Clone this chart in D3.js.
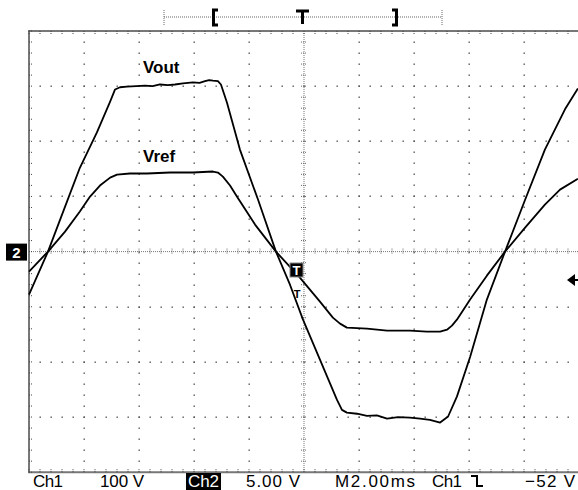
<!DOCTYPE html>
<meta charset="utf-8">
<style>
  body { margin: 0; background: #fff; }
  svg { display: block; }
  text { font-family: "Liberation Sans", Arial, sans-serif; }
</style>
<body>
<div id="scope"></div>
<script src="https://cdn.jsdelivr.net/npm/d3@7"></script>
<script>

// Data --------------------------------------
// time in ms from left edge of screen, Ch1 = Vout (100 V/div), Ch2 = Vref (5 V/div)
var voutTime  = [0, 0.69, 1.27, 1.85, 2.47, 2.95, 3.13, 3.31, 3.56, 3.9, 4.22, 4.5, 4.76, 5.05, 5.31, 5.6, 5.96, 6.2, 6.4, 6.55, 6.69, 6.87, 6.98, 7.2, 7.67, 8.33, 8.98, 9.49, 9.96, 10.58, 11.2, 11.38, 11.56, 11.93, 12.29, 12.65, 13.02, 13.42, 13.85, 14.22, 14.58, 14.95, 15.24, 15.56, 16.04, 16.65, 17.31, 18.04, 18.76, 19.49, 19.96];
var voutVolts = [-78, 0, 76, 152, 216, 272, 294, 298, 299, 300, 301, 300, 303, 302, 303, 305, 307, 306, 309, 311, 310, 309, 303, 270, 185, 94, 0, -60, -123, -196, -269, -287, -292, -294, -298, -297, -303, -300, -301, -303, -305, -310, -299, -263, -191, -87, 0, 94, 185, 258, 296];

var vrefTime  = [0, 0.69, 1.31, 1.85, 2.22, 2.58, 2.95, 3.2, 3.67, 4.29, 5.13, 5.96, 6.69, 6.87, 7.05, 7.31, 7.56, 8.22, 8.98, 9.85, 10.58, 11.05, 11.31, 11.56, 12.29, 13.02, 13.85, 14.47, 14.95, 15.2, 15.38, 15.56, 15.78, 16.04, 16.65, 17.31, 18.04, 18.76, 19.31, 19.96];
var vrefVolts = [-1.81, 0, 1.81, 3.63, 4.99, 5.99, 6.71, 6.98, 7.08, 7.08, 7.17, 7.17, 7.26, 7.17, 6.8, 5.99, 4.99, 2.45, 0, -2.36, -4.54, -5.99, -6.53, -6.89, -6.98, -7.17, -7.17, -7.26, -7.26, -7.08, -6.71, -6.17, -5.35, -4.35, -2.18, 0, 2.18, 4.26, 5.62, 6.6];

var traceLabels = ["Vout", "Vref"];
var statusText  = ["Ch1", "100 V", "Ch2", "5.00 V", "M2.00ms", "Ch1", "\u221252 V"];

// Screen setup ----------------
var W = 578, H = 490;
var gLeft = 29, gTop = 31, divX = 55, divY = 55.15;

var x  = d3.scaleLinear().domain([0, 20]).range([gLeft, gLeft + 10 * divX]);     // 2 ms/div
var yd = d3.scaleLinear().domain([-4, 4]).range([gTop + 8 * divY, gTop]);        // divisions
var y1 = d3.scaleLinear().domain([-400, 400]).range(yd.range());                 // Ch1 100 V/div
var y2 = d3.scaleLinear().domain([-20, 20]).range(yd.range());                   // Ch2 5 V/div

var svg = d3.select("#scope").append("svg")
    .attr("width", W)
    .attr("height", H);

svg.append("rect").attr("width", W).attr("height", H).attr("fill", "#fff");

// Graticule ----------------
var grid = svg.append("g").attr("fill", "#555");
var minorT = d3.range(0, 20.001, 0.4);
var minorV = d3.range(-4, 4.001, 0.2);

[2, 4, 6, 8, 12, 14, 16, 18, 20].forEach(function(t) {
  minorV.forEach(function(v) {
    grid.append("rect").attr("x", Math.round(x(t)) - 0.5).attr("y", Math.round(yd(v)) - 0.5)
        .attr("width", 1.4).attr("height", 1.4);
  });
});
[-3, -2, -1, 1, 2, 3].forEach(function(v) {
  minorT.forEach(function(t) {
    grid.append("rect").attr("x", Math.round(x(t)) - 0.5).attr("y", Math.round(yd(v)) - 0.5)
        .attr("width", 1.4).attr("height", 1.4);
  });
});

// center cross
svg.append("line")
    .attr("x1", x(0)).attr("x2", x(20)).attr("y1", yd(0)).attr("y2", yd(0))
    .attr("stroke", "#777").attr("stroke-width", 1).attr("stroke-dasharray", "1,1");
svg.append("line")
    .attr("x1", x(10)).attr("x2", x(10)).attr("y1", yd(4)).attr("y2", yd(-4))
    .attr("stroke", "#777").attr("stroke-width", 1).attr("stroke-dasharray", "1,1");

svg.append("g").selectAll("line")
  .data(minorT).enter().append("line")
    .attr("x1", function(d) { return x(d); }).attr("x2", function(d) { return x(d); })
    .attr("y1", yd(0) - 3).attr("y2", yd(0) + 3)
    .attr("stroke", "#666").attr("stroke-width", 1).attr("stroke-dasharray", "1,1");
svg.append("g").selectAll("line")
  .data(minorV).enter().append("line")
    .attr("y1", function(d) { return yd(d); }).attr("y2", function(d) { return yd(d); })
    .attr("x1", x(10) - 3).attr("x2", x(10) + 3)
    .attr("stroke", "#666").attr("stroke-width", 1).attr("stroke-dasharray", "1,1");

// border + edge ticks
var border = svg.append("g").attr("stroke", "#777").attr("fill", "none");
border.append("path")
    .attr("stroke-width", 2)
    .attr("d", "M" + W + "," + yd(4) + "H" + x(0) + "V" + yd(-4) + "H" + W);

border.selectAll(".tt").data(minorT).enter().append("line")
    .attr("x1", function(d) { return x(d); }).attr("x2", function(d) { return x(d); })
    .attr("y1", yd(4)).attr("y2", yd(4) + 4).attr("stroke", "#444").attr("stroke-dasharray", "1,1");
border.selectAll(".bt").data(minorT).enter().append("line")
    .attr("x1", function(d) { return x(d); }).attr("x2", function(d) { return x(d); })
    .attr("y1", yd(-4)).attr("y2", yd(-4) - 4).attr("stroke", "#444").attr("stroke-dasharray", "1,1");
border.selectAll(".lt").data(minorV).enter().append("line")
    .attr("y1", function(d) { return yd(d); }).attr("y2", function(d) { return yd(d); })
    .attr("x1", x(0)).attr("x2", x(0) + 4).attr("stroke", "#444").attr("stroke-dasharray", "1,1");

// Record bar at top ----------------
var bar = svg.append("g");
bar.append("line").attr("x1", 164).attr("x2", 442).attr("y1", 17).attr("y2", 17)
    .attr("stroke", "#666").attr("stroke-dasharray", "1,1");
[164, 442].forEach(function(px) {
  bar.append("line").attr("x1", px).attr("x2", px).attr("y1", 10).attr("y2", 25)
      .attr("stroke", "#666").attr("stroke-dasharray", "1,1");
});
bar.append("path").attr("fill", "none").attr("stroke", "#000").attr("stroke-width", 3)
    .attr("d", "M218,10H213.5V25H218 M392,10H396.5V25H392 M296,11H309 M302.5,11V24");

// Traces ----------------
var voutData = voutTime.map(function(t, i) { return [t, voutVolts[i]]; });
var vrefData = vrefTime.map(function(t, i) { return [t, vrefVolts[i]]; });

var line1 = d3.line().x(function(d) { return x(d[0]); }).y(function(d) { return y1(d[1]); });
var line2 = d3.line().x(function(d) { return x(d[0]); }).y(function(d) { return y2(d[1]); });

svg.append("path").datum(vrefData).attr("d", line2)
    .attr("fill", "none").attr("stroke", "#000").attr("stroke-width", 1.8).attr("stroke-linejoin", "round");
svg.append("path").datum(voutData).attr("d", line1)
    .attr("fill", "none").attr("stroke", "#000").attr("stroke-width", 1.8).attr("stroke-linejoin", "round");

svg.append("text").attr("x", 143).attr("y", 73)
    .attr("font-size", 17).attr("font-weight", "bold").text(traceLabels[0]);
svg.append("text").attr("x", 143).attr("y", 162)
    .attr("font-size", 17).attr("font-weight", "bold").text(traceLabels[1]);

// Markers ----------------
// Ch2 ground marker
svg.append("rect").attr("x", 6).attr("y", yd(0) - 8).attr("width", 21).attr("height", 17).attr("fill", "#000");
svg.append("text").attr("x", 16.5).attr("y", yd(0) + 6).attr("text-anchor", "middle")
    .attr("font-size", 15).attr("font-weight", "bold").attr("fill", "#fff").text("2");

// trigger position marker
svg.append("rect").attr("x", 290).attr("y", 263).attr("width", 13).attr("height", 14)
    .attr("fill", "#000").attr("stroke", "#888");
svg.append("text").attr("x", 296.5).attr("y", 275).attr("text-anchor", "middle")
    .attr("font-size", 13).attr("font-weight", "bold").attr("fill", "#fff").text("T");
svg.append("text").attr("x", 297).attr("y", 298).attr("text-anchor", "middle")
    .attr("font-size", 11).attr("font-weight", "bold").attr("fill", "#000").text("T");

// trigger level arrow
svg.append("path").attr("fill", "#000")
    .attr("d", "M567,280L575,274V286Z M574,279H578V281H574Z");

// Status line ----------------
var statusBar = svg.append("g").attr("font-size", 17).attr("fill", "#000");
statusBar.append("text").attr("x", 33).attr("y", 487).attr("textLength", 30).text(statusText[0]);
statusBar.append("text").attr("x", 100).attr("y", 487).attr("textLength", 44).text(statusText[1]);
statusBar.append("rect").attr("x", 186).attr("y", 473).attr("width", 35).attr("height", 17).attr("fill", "#000");
statusBar.append("text").attr("x", 188).attr("y", 487).attr("textLength", 31).attr("fill", "#fff").text(statusText[2]);
statusBar.append("text").attr("x", 246).attr("y", 487).attr("textLength", 54).text(statusText[3]);
statusBar.append("text").attr("x", 335).attr("y", 487).attr("textLength", 80).text(statusText[4]);
statusBar.append("text").attr("x", 432).attr("y", 487).attr("textLength", 30).text(statusText[5]);
statusBar.append("path").attr("fill", "none").attr("stroke", "#000").attr("stroke-width", 2)
    .attr("d", "M471,476H477V486H483");
statusBar.append("text").attr("x", 525).attr("y", 487).attr("textLength", 50).text(statusText[6]);

</script>
</body>
